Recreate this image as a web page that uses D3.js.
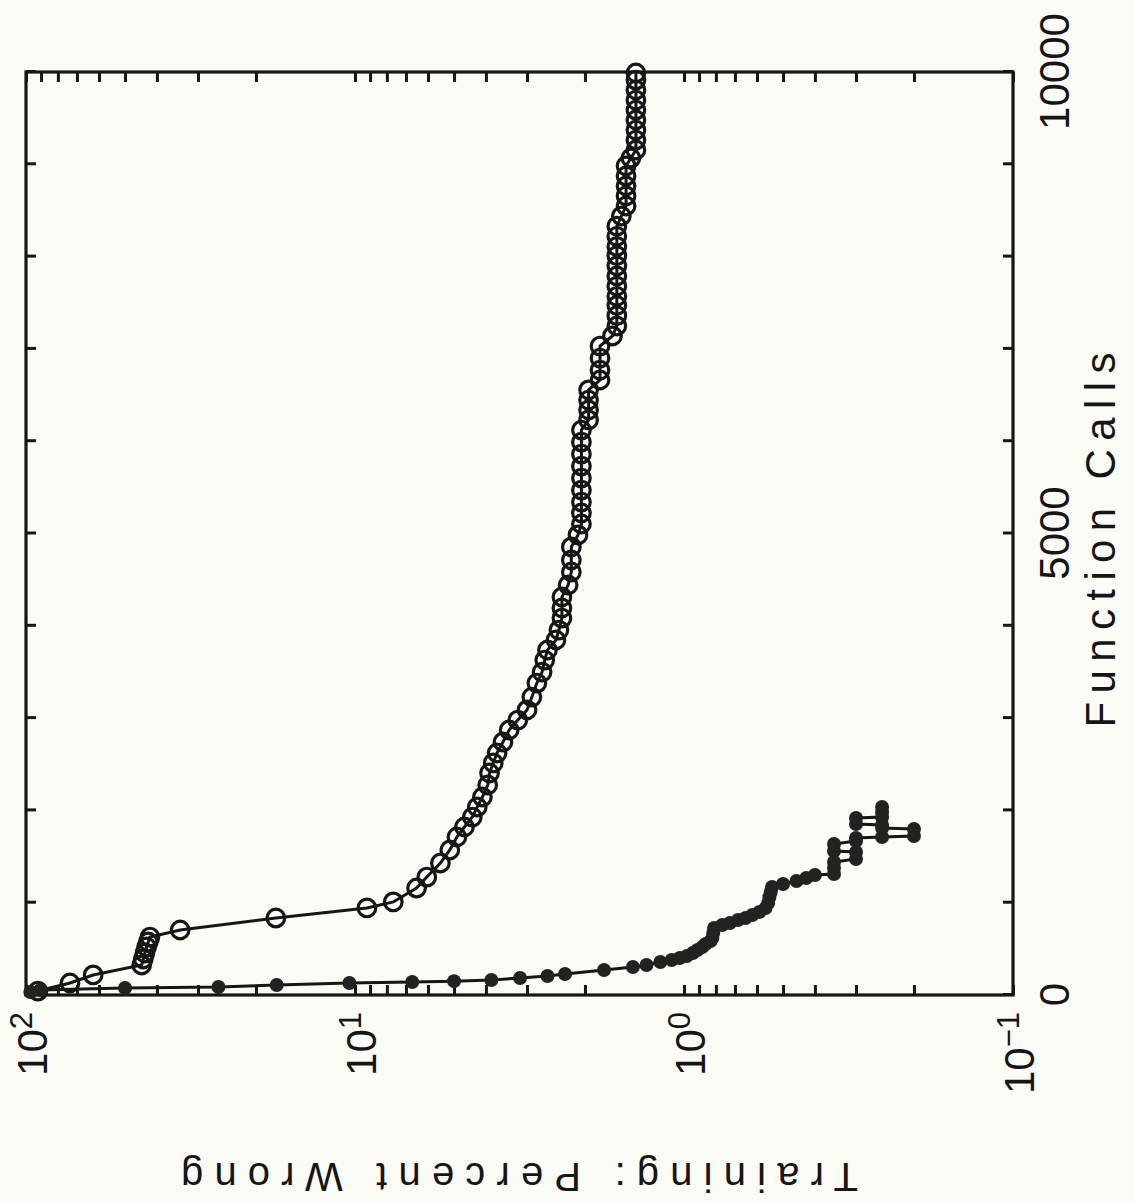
<!DOCTYPE html>
<html>
<head>
<meta charset="utf-8">
<script src="https://cdn.jsdelivr.net/npm/d3@7"></script>
<style>
  body { margin: 0; background: #fbfbf6; }
  svg { display: block; }
  text { font-family: "Liberation Sans", Arial, sans-serif; fill: #151515; }
</style>
</head>
<body>
<svg width="1134" height="1202"></svg>
<script>
// open circles
var openCalls = [43, 130, 217, 325, 390, 455, 520, 574, 628, 704, 834, 943, 1008, 1159, 1278, 1430, 1571, 1712,
  1820, 1928, 2037, 2145, 2275, 2405, 2514, 2622, 2741, 2871, 2979, 3088, 3228, 3380, 3499, 3629, 3738, 3846,
  3954, 4084, 4193, 4312, 4442, 4583, 4713, 4854, 4984, 5103, 5222, 5341, 5471, 5601, 5731, 5861, 5991, 6121,
  6230, 6338, 6446, 6555, 6663, 6771, 6901, 7031, 7140, 7248, 7360, 7470, 7570, 7680, 7790, 7900, 8010, 8110,
  8220, 8330, 8440, 8548, 8657, 8765, 8873, 8982, 9068, 9155, 9263, 9371, 9480, 9588, 9696, 9805, 9913, 9989]
var openPct = [92, 73.5, 62.5, 44.5, 44, 43.5, 43, 42.5, 42, 34, 17.4, 9.2, 7.65, 6.5, 6.05, 5.5, 5.15, 4.9,
  4.65, 4.4, 4.25, 4.1, 3.95, 3.9, 3.8, 3.7, 3.55, 3.4, 3.2, 3.0, 2.9, 2.8, 2.7, 2.65, 2.6, 2.45,
  2.4, 2.35, 2.35, 2.35, 2.25, 2.2, 2.2, 2.2, 2.1, 2.05, 2.05, 2.05, 2.05, 2.05, 2.05, 2.05, 2.05, 2.05,
  1.95, 1.95, 1.95, 1.95, 1.8, 1.8, 1.8, 1.8, 1.65, 1.6, 1.6, 1.6, 1.6, 1.6, 1.6, 1.6, 1.6, 1.6,
  1.6, 1.6, 1.55, 1.5, 1.5, 1.5, 1.5, 1.5, 1.45, 1.4, 1.4, 1.4, 1.4, 1.4, 1.4, 1.4, 1.4, 1.4]

// filled dots
var dotCalls = [33, 54, 76, 87, 108, 130, 141, 150, 163, 184, 206, 228, 271, 303, 325, 358, 379, 401, 423,
  455, 488, 520, 553, 585, 618, 672, 726, 758, 780, 813, 834, 867, 899, 943, 997, 1062, 1116, 1170,
  1203, 1235, 1268, 1300, 1311, 1376, 1441, 1473, 1549, 1560, 1636, 1668, 1701, 1712, 1723, 1798,
  1809, 1842, 1853, 1918, 1929, 1983, 2037]
var dotPct = [97, 90.5, 50, 26, 17.3, 10.4, 6.7, 5.0, 3.85, 3.15, 2.6, 2.3, 1.75, 1.43, 1.3, 1.18, 1.09, 1.03, 0.98,
  0.94, 0.91, 0.88, 0.86, 0.83, 0.82, 0.815, 0.81, 0.765, 0.725, 0.685, 0.65, 0.62, 0.59, 0.565, 0.555, 0.55, 0.545, 0.54,
  0.5, 0.455, 0.425, 0.4, 0.35, 0.35, 0.35, 0.3, 0.3, 0.35, 0.35, 0.3, 0.3, 0.25, 0.2, 0.2,
  0.25, 0.25, 0.3, 0.3, 0.25, 0.25, 0.25]

var callTicks = d3.range(0, 10001, 1000)
var callLabels = [0, 5000, 10000]
var pctDecades = [100, 10, 1, 0.1]
var pctExps = ['2', '1', '0', '\u22121']

var svg = d3.select('svg')
var W = 923
var H = 987
var ink = '#161616'

// drawn upright, then turned a quarter to the left like the scan
var g = svg.append('g').attr('transform', 'translate(26,995) rotate(-90)')

var x = d3.scaleLinear().domain([0, 10000]).range([0, W])
var y = d3.scaleLog().domain([0.1, 100]).range([H, 0])

var logTicks = []
;[0.1, 1, 10].forEach(function(b) {
  for (var k = 1; k < 10; k++) logTicks.push(b * k)
})
logTicks.push(100)

var styleAxis = function(sel) {
  sel.select('.domain').remove()
  sel.selectAll('.tick line').attr('stroke', ink).attr('stroke-width', 3)
  sel.selectAll('.tick text').attr('font-size', 42).attr('font-family', '"Liberation Sans", Arial, sans-serif').attr('fill', ink)
}

g.append('g').attr('transform', 'translate(0,' + H + ')')
  .call(d3.axisBottom(x).tickValues(callTicks).tickSize(-10).tickPadding(26)
    .tickFormat(function(d) { return callLabels.indexOf(d) >= 0 ? d : '' }))
  .call(styleAxis)

g.append('g')
  .call(d3.axisTop(x).tickValues(callTicks).tickSize(-10).tickFormat(''))
  .call(styleAxis)

g.append('g')
  .call(d3.axisLeft(y).tickValues(logTicks).tickSize(-10).tickFormat(''))
  .call(styleAxis)

g.append('g').attr('transform', 'translate(' + W + ',0)')
  .call(d3.axisRight(y).tickValues(logTicks).tickSize(-10).tickFormat(''))
  .call(styleAxis)

var lab = g.selectAll('.declab').data(pctDecades).enter().append('text')
  .attr('class', 'declab')
  .attr('x', -17)
  .attr('y', function(d) { return y(d) + 21 })
  .attr('text-anchor', 'end')
  .attr('font-size', 42)
lab.append('tspan').text('10')
lab.append('tspan').attr('dy', -15).attr('font-size', 31).text(function(d, i) { return pctExps[i] })

g.append('rect').attr('width', W).attr('height', H)
  .attr('fill', 'none').attr('stroke', ink).attr('stroke-width', 3.2)

var openData = openCalls.map(function(c, i) { return { c: c, p: openPct[i] } })
var dotData = dotCalls.map(function(c, i) { return { c: c, p: dotPct[i] } })

var line = d3.line()
  .x(function(d) { return x(d.c) })
  .y(function(d) { return y(d.p) })

g.append('path').datum(openData).attr('d', line)
  .attr('fill', 'none').attr('stroke', ink).attr('stroke-width', 3)
g.append('g').selectAll('circle').data(openData).enter().append('circle')
  .attr('cx', function(d) { return x(d.c) })
  .attr('cy', function(d) { return y(d.p) })
  .attr('r', 8.8)
  .attr('fill', 'none').attr('stroke', ink).attr('stroke-width', 3.2)

g.append('path').datum(dotData).attr('d', line)
  .attr('fill', 'none').attr('stroke', ink).attr('stroke-width', 3)
g.append('g').selectAll('circle').data(dotData).enter().append('circle')
  .attr('cx', function(d) { return x(d.c) })
  .attr('cy', function(d) { return y(d.p) })
  .attr('r', 7)
  .attr('fill', '#222')

g.append('text')
  .attr('x', 455).attr('y', 1089)
  .attr('text-anchor', 'middle')
  .attr('font-size', 42)
  .attr('textLength', 375).attr('lengthAdjust', 'spacing')
  .text('Function Calls')

g.append('text')
  .attr('transform', 'translate(-168,' + (H / 2) + ') rotate(-90)')
  .attr('text-anchor', 'middle')
  .attr('font-size', 40)
  .attr('textLength', 677).attr('lengthAdjust', 'spacing')
  .text('Training: Percent Wrong')
</script>
</body>
</html>
